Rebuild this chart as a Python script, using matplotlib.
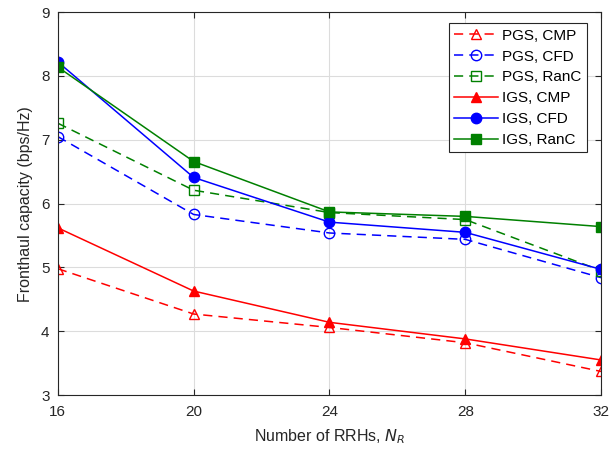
import numpy as np
import matplotlib.pyplot as plt

plt.rcParams['font.family'] = ['Liberation Sans', 'DejaVu Sans']

# data
NR = [16, 20, 24, 28, 32]
pgs_cmp = [4.98, 4.27, 4.06, 3.82, 3.37]
pgs_cfd = [7.05, 5.83, 5.54, 5.44, 4.84]
pgs_ranc = [7.26, 6.21, 5.86, 5.75, 4.95]
igs_cmp = [5.62, 4.63, 4.14, 3.88, 3.55]
igs_cfd = [8.22, 6.41, 5.71, 5.55, 4.97]
igs_ranc = [8.14, 6.66, 5.87, 5.80, 5.64]

dkgreen = (0, 0.5, 0)
dash = (6, 4)

fig = plt.figure(figsize=(6.09, 4.51), dpi=100)
ax = fig.add_axes([0.095, 0.124, 0.892, 0.849])

ax.plot(NR, pgs_cmp, '--', dashes=dash, color='r', marker='^', mfc='none', ms=7.5, lw=1.1, label='PGS, CMP')
ax.plot(NR, pgs_cfd, '--', dashes=dash, color='b', marker='o', mfc='none', ms=7.5, lw=1.1, label='PGS, CFD')
ax.plot(NR, pgs_ranc, '--', dashes=dash, color=dkgreen, marker='s', mfc='none', ms=6.5, lw=1.1, label='PGS, RanC')
ax.plot(NR, igs_cmp, '-', color='r', marker='^', ms=7.5, lw=1.1, label='IGS, CMP')
ax.plot(NR, igs_cfd, '-', color='b', marker='o', ms=7.5, lw=1.1, label='IGS, CFD')
ax.plot(NR, igs_ranc, '-', color=dkgreen, marker='s', ms=6.5, lw=1.1, label='IGS, RanC')

ax.set_xlim(16, 32)
ax.set_ylim(3, 9)
ax.set_xticks(NR)
ax.set_yticks(np.arange(3, 10, 1))
ax.grid(True, color='#dcdcdc', lw=0.8)
ax.set_axisbelow(True)
ax.tick_params(direction='in', length=4, labelsize=11, colors='#262626', top=True, right=True)
ax.tick_params(axis='x', pad=7)
ax.tick_params(axis='y', pad=6)
for s in ax.spines.values():
    s.set_color('#262626')
    s.set_linewidth(0.8)

ax.set_xlabel('Number of RRHs, $N_R$', fontsize=11.5, color='#262626', labelpad=6)
ax.set_ylabel('Fronthaul capacity (bps/Hz)', fontsize=11.5, color='#262626', labelpad=6)

leg = ax.legend(loc='upper right', bbox_to_anchor=(0.974, 0.971), fontsize=11, fancybox=False,
                edgecolor='#262626', framealpha=1, borderaxespad=0, handlelength=2.9,
                labelspacing=0.45, borderpad=0.35, handletextpad=0.25)
leg.get_frame().set_linewidth(0.8)

fig.savefig('out.png', dpi=100)
